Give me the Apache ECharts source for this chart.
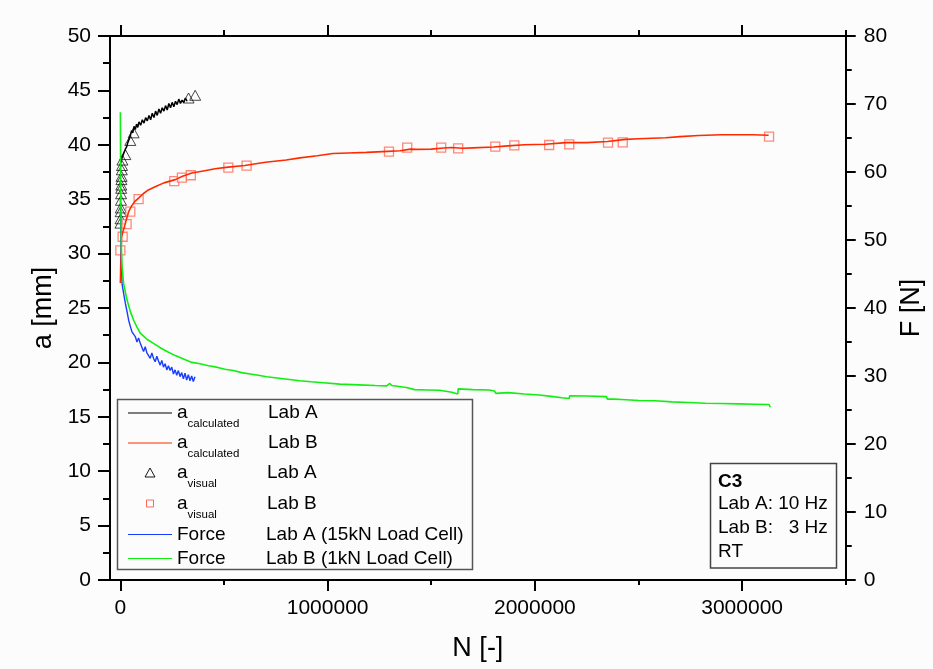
<!DOCTYPE html>
<html>
<head>
<meta charset="utf-8">
<script src="https://cdn.jsdelivr.net/npm/echarts@6/dist/echarts.min.js"></script>
<style>
html,body{margin:0;padding:0;background:#fcfcfc;}
#chart{width:933px;height:669px;}
</style>
</head>
<body>
<div id="chart"></div>
<script>
// ---- data (N [-], value) ----
const aCalcLabA = [[0,38.2],[6000,38.7],[12000,39.0],[18000,39.3],[24000,39.6],[30000,39.8],[36000,40.2],[42000,40.5],[48000,40.8],[54000,41.3],[60000,41.1],[66000,41.7],[72000,41.4],[78000,41.9],[84000,41.6],[90000,42.1],[98000,41.8],[106000,42.3],[114000,42.0],[122000,42.5],[130000,42.2],[138000,42.7],[146000,42.3],[154000,42.9],[162000,42.5],[170000,43.1],[178000,42.7],[186000,43.3],[194000,42.9],[202000,43.4],[210000,43.1],[218000,43.6],[226000,43.2],[234000,43.8],[242000,43.4],[250000,43.9],[258000,43.5],[266000,44.0],[274000,43.7],[282000,44.2],[290000,43.8],[298000,44.1],[306000,43.9],[314000,44.3],[322000,44.0]];
const aCalcLabB = [[0,27.3],[3000,30.0],[6000,31.5],[12000,32.0],[20000,32.5],[30000,33.2],[40000,33.85],[55000,34.4],[70000,34.8],[88000,35.1],[110000,35.5],[135000,35.85],[168000,36.15],[210000,36.5],[265000,36.8],[300000,37.1],[345000,37.4],[400000,37.6],[457000,37.8],[520000,37.95],[600000,38.1],[700000,38.4],[800000,38.6],[866000,38.8],[950000,39.0],[1025000,39.2],[1100000,39.25],[1187000,39.3],[1290000,39.4],[1350000,39.45],[1400000,39.6],[1428000,39.58],[1500000,39.6],[1560000,39.7],[1600000,39.75],[1650000,39.68],[1700000,39.72],[1800000,39.8],[1870000,39.9],[1950000,40.0],[2050000,40.05],[2150000,40.2],[2250000,40.2],[2350000,40.3],[2438000,40.5],[2500000,40.55],[2631000,40.65],[2700000,40.75],[2791000,40.85],[2900000,40.92],[2951000,40.93],[3050000,40.93],[3128000,40.88]];
const aVisualLabA = [[500,32.8],[1000,33.2],[1500,33.85],[2000,34.2],[3000,34.9],[3500,35.5],[4000,36.0],[4500,36.3],[5000,36.8],[6000,37.1],[7000,37.7],[8000,38.1],[10000,38.6],[24000,39.1],[48000,40.4],[64000,41.1],[329000,44.3],[361000,44.55]];
const aVisualLabB = [[0,30.3],[11000,31.55],[30000,32.7],[48000,33.85],[88000,35.0],[260000,36.67],[297000,36.98],[340000,37.2],[521000,37.9],[609000,38.08],[1296000,39.37],[1384000,39.74],[1548000,39.74],[1630000,39.68],[1809000,39.83],[1901000,39.95],[2069000,39.98],[2166000,40.04],[2353000,40.2],[2424000,40.23],[3130000,40.75]];
const forceLabA = [[0,56],[3000,50],[6000,46],[8000,43.6],[12000,42.8],[16000,42.6],[24000,40.7],[32000,39.5],[40000,38.2],[48000,37.3],[56000,36.5],[64000,36.3],[72000,35.8],[80000,35.0],[88000,35.6],[96000,34.8],[104000,34.6],[112000,33.6],[120000,34.3],[128000,33.4],[136000,33.3],[144000,32.6],[152000,33.4],[160000,32.6],[168000,32.1],[176000,32.9],[184000,32.2],[192000,31.6],[200000,32.3],[208000,31.3],[216000,31.8],[224000,30.9],[232000,31.5],[240000,30.8],[248000,31.3],[256000,30.3],[264000,30.9],[272000,30.1],[280000,30.8],[288000,29.9],[296000,30.5],[304000,29.6],[312000,30.4],[320000,29.4],[328000,30.2],[336000,29.3],[344000,30.0],[352000,29.2],[360000,29.9]];
const forceLabB = [[0,68.8],[2000,56],[5000,49],[8000,46.1],[16000,43.5],[32000,41.2],[48000,39.5],[64000,38.2],[80000,37.2],[96000,36.3],[128000,35.4],[160000,34.8],[190000,34.2],[225000,33.6],[265000,33.0],[305000,32.5],[345000,32.0],[385000,31.8],[425000,31.5],[465000,31.3],[505000,31.0],[545000,30.8],[585000,30.5],[626000,30.3],[666000,30.1],[706000,29.9],[746000,29.75],[786000,29.6],[826000,29.45],[866000,29.3],[920000,29.15],[980000,29.0],[1059000,28.8],[1150000,28.7],[1230000,28.6],[1285000,28.55],[1300000,28.9],[1310000,28.6],[1380000,28.3],[1420000,28.0],[1480000,27.95],[1540000,27.9],[1600000,27.6],[1628000,27.35],[1630000,28.1],[1700000,28.0],[1780000,27.95],[1805000,27.8],[1812000,27.45],[1870000,27.55],[1950000,27.35],[2021000,27.2],[2080000,27.0],[2130000,26.8],[2166000,26.7],[2168000,27.1],[2250000,27.05],[2345000,26.96],[2350000,26.6],[2380000,26.6],[2420000,26.55],[2502000,26.4],[2580000,26.35],[2663000,26.2],[2740000,26.1],[2823000,26.0],[2900000,25.95],[2984000,25.9],[3060000,25.85],[3130000,25.8],[3136000,25.4]];

const xMajorTicks = [0, 1000000, 2000000, 3000000];
const xMinorTicks = [500000, 1500000, 2500000, 3500000];
const xMin = -50000, xMax = 3500000;
const legendRows = [
  {main:'a', sub:'calculated', lab:'Lab A', kind:'line', color:'#000000'},
  {main:'a', sub:'calculated', lab:'Lab B', kind:'line', color:'#ff2a00'},
  {main:'a', sub:'visual', lab:'Lab A', kind:'triangle', color:'#000000'},
  {main:'a', sub:'visual', lab:'Lab B', kind:'rect', color:'#ff6a5a'},
  {main:'Force', sub:'', lab:'Lab A (15kN Load Cell)', kind:'line', color:'#1a3cff'},
  {main:'Force', sub:'', lab:'Lab B (1kN Load Cell)', kind:'line', color:'#11ee11'}
];
const infoLines = ['C3', 'Lab A: 10 Hz', 'Lab B:   3 Hz', 'RT'];

// ---- chart ----
const FONT = '"Liberation Sans", Arial, sans-serif';
const chart = echarts.init(document.getElementById('chart'), null, {renderer:'canvas'});
const axisLine = {show:true, onZero:false, lineStyle:{color:'#000', width:2}};

function xAx(pos, ticks, len, labels, extra){
  return Object.assign({
    type:'value', position:pos, min:xMin, max:xMax,
    axisLine: labels===null ? {show:false, onZero:false} : axisLine,
    axisTick:{show:true, inside:false, length:len, customValues:ticks, lineStyle:{color:'#000', width:2}},
    axisLabel: labels ? {show:true, customValues:ticks, fontSize:21, color:'#000', fontFamily:FONT, margin:18, formatter:(v)=>String(v)} : {show:false},
    splitLine:{show:false}
  }, extra||{});
}

const legendRowY = [413, 443, 473, 504, 534.5, 558.5];
const legendLabX = [268, 268, 267, 267, 266, 266];
const graphics = [];
graphics.push({type:'rect', shape:{x:117.5, y:399.5, width:355, height:170}, style:{fill:'#fcfcfc', stroke:'#555', lineWidth:1.5}, z:10});
legendRows.forEach((r,i)=>{
  const y = legendRowY[i];
  if (r.kind==='line') {
    graphics.push({type:'line', shape:{x1:128, y1:y, x2:172, y2:y}, style:{stroke:r.color, lineWidth:1.2}, z:11});
  } else if (r.kind==='triangle') {
    graphics.push({type:'polygon', shape:{points:[[150,y-5],[155,y+4],[145,y+4]]}, style:{fill:'none', stroke:r.color, lineWidth:0.9}, z:11});
  } else {
    graphics.push({type:'rect', shape:{x:146.5, y:y-4, width:7, height:7}, style:{fill:'#fcfcfc', stroke:r.color, lineWidth:1}, z:11});
  }
  graphics.push({type:'text', x:177, y:y, style:{text:r.main, font:'19px '+FONT, fill:'#000', verticalAlign:'middle'}, z:11});
  if (r.sub) graphics.push({type:'text', x:187.5, y:y+11, style:{text:r.sub, font:'11.5px '+FONT, fill:'#000', verticalAlign:'middle'}, z:11});
  graphics.push({type:'text', x:legendLabX[i], y:y, style:{text:r.lab, font:'19px '+FONT, fill:'#000', verticalAlign:'middle'}, z:11});
});
graphics.push({type:'rect', shape:{x:710.5, y:463.5, width:126, height:104.5}, style:{fill:'#fcfcfc', stroke:'#444', lineWidth:1.5}, z:10});
const infoY = [481.5, 503.5, 528, 551.5];
infoLines.forEach((t,i)=>{
  graphics.push({type:'text', x:718, y:infoY[i], style:{text:t, font:(i===0?'bold ':'')+'19px '+FONT, fill:'#000', verticalAlign:'middle'}, z:11});
});

const option = {
  backgroundColor:'#fcfcfc',
  animation:false,
  grid:{left:110, right:85, top:36, bottom:89, containLabel:false},
  xAxis:[
    xAx('bottom', xMajorTicks, 11, true, {name:'N [-]', nameLocation:'middle', nameGap:55, nameTextStyle:{fontSize:27, color:'#000', fontFamily:FONT}}),
    xAx('bottom', xMinorTicks, 5, null),
    xAx('top', xMajorTicks, 11, false),
    xAx('top', xMinorTicks, 6, null)
  ],
  yAxis:[
    {type:'value', position:'left', min:0, max:50, interval:5,
     axisLine:axisLine,
     axisTick:{show:true, inside:false, length:12, lineStyle:{color:'#000', width:2}},
     minorTick:{show:true, splitNumber:2, length:7, lineStyle:{color:'#000', width:2}},
     axisLabel:{fontSize:21, color:'#000', fontFamily:FONT, margin:19},
     splitLine:{show:false},
     name:'a [mm]', nameLocation:'middle', nameGap:52, nameTextStyle:{fontSize:27, color:'#000', fontFamily:FONT}},
    {type:'value', position:'right', min:0, max:80, interval:10,
     axisLine:axisLine,
     axisTick:{show:true, inside:false, length:10, lineStyle:{color:'#000', width:2}},
     minorTick:{show:true, splitNumber:2, length:6, lineStyle:{color:'#000', width:2}},
     axisLabel:{fontSize:21, color:'#000', fontFamily:FONT, margin:18},
     splitLine:{show:false},
     name:'F [N]', nameLocation:'middle', nameGap:46, nameTextStyle:{fontSize:27, color:'#000', fontFamily:FONT}}
  ],
  series:[
    {name:'a calculated Lab A', type:'line', data:aCalcLabA, xAxisIndex:0, yAxisIndex:0, showSymbol:false, lineStyle:{color:'#000', width:1.5}, itemStyle:{color:'#000'}},
    {name:'a calculated Lab B', type:'line', data:aCalcLabB, xAxisIndex:0, yAxisIndex:0, showSymbol:false, lineStyle:{color:'#ff2a00', width:1.6}, itemStyle:{color:'#ff2a00'}},
    {name:'a visual Lab A', type:'scatter', data:aVisualLabA, xAxisIndex:0, yAxisIndex:0, symbol:'triangle', symbolSize:[11,10], itemStyle:{color:'rgba(0,0,0,0)', borderColor:'#000', borderWidth:0.9}},
    {name:'a visual Lab B', type:'scatter', data:aVisualLabB, xAxisIndex:0, yAxisIndex:0, symbol:'rect', symbolSize:9, itemStyle:{color:'#fcfcfc', borderColor:'#ff6a5a', borderWidth:1.3}},
    {name:'Force Lab A', type:'line', data:forceLabA, xAxisIndex:0, yAxisIndex:1, showSymbol:false, lineStyle:{color:'#1a3cff', width:1.4}, itemStyle:{color:'#1a3cff'}},
    {name:'Force Lab B', type:'line', data:forceLabB, xAxisIndex:0, yAxisIndex:1, showSymbol:false, lineStyle:{color:'#11ee11', width:1.6}, itemStyle:{color:'#11ee11'}}
  ],
  graphic:graphics
};
chart.setOption(option);
</script>
</body>
</html>
